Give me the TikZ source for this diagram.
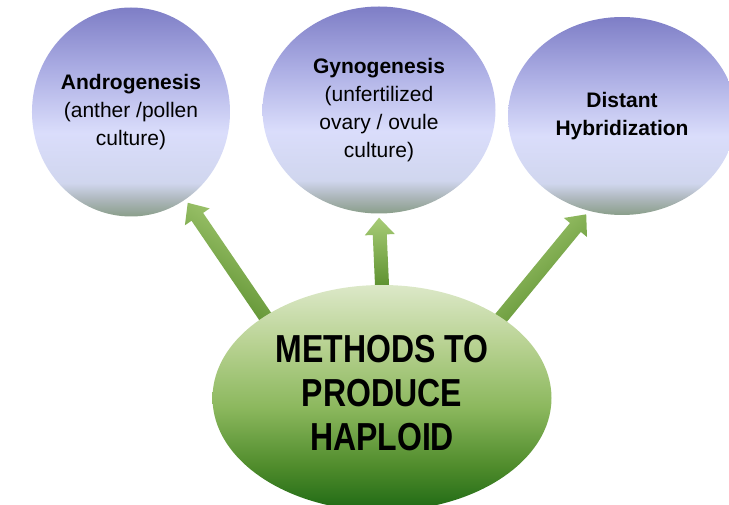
\documentclass[tikz,border=0pt]{standalone}
\usepackage{fontspec}
\setmainfont{Liberation Sans}
\usepackage{xcolor}
\usepackage{tikz}
\usetikzlibrary{positioning, shapes.geometric, calc, backgrounds}

\definecolor{balltop}{RGB}{126,126,198}
\definecolor{ballmid}{RGB}{172,174,228}
\definecolor{balllight}{RGB}{218,221,251}
\definecolor{balllow}{RGB}{208,214,238}
\definecolor{ballgrey}{RGB}{172,182,186}
\definecolor{ballbot}{RGB}{138,158,138}
\definecolor{grasstop}{RGB}{220,232,200}
\definecolor{grasshigh}{RGB}{184,210,146}
\definecolor{grassmid}{RGB}{140,184,94}
\definecolor{grasslow}{RGB}{80,140,44}
\definecolor{grassbot}{RGB}{30,105,20}
\definecolor{shootlight}{RGB}{168,204,118}
\definecolor{shootdark}{RGB}{82,136,38}

\pgfdeclareverticalshading{skyball}{100bp}{color(0bp)=(ballbot); color(25bp)=(ballbot); color(29bp)=(ballgrey); color(33bp)=(balllow); color(45bp)=(balllight); color(60bp)=(ballmid); color(75bp)=(balltop); color(100bp)=(balltop)}
\pgfdeclareverticalshading{grass}{100bp}{color(0bp)=(grassbot); color(25bp)=(grassbot); color(35bp)=(grasslow); color(48bp)=(grassmid); color(62bp)=(grasshigh); color(75bp)=(grasstop); color(100bp)=(grasstop)}

% root anchor, target node, target angle, shading angle
\newcommand\growarrow[4]{%
  \coordinate (tip) at ($(#2.#3)!-4pt!(#2.center)$);
  \coordinate (foot) at ($(#1)!-12pt!(tip)$);
  \coordinate (neck) at ($(tip)!17pt!(foot)$);
  \shade[shoot, shading angle=#4] ($(foot)!7pt!-90:(tip)$) -- ($(neck)!7pt!-90:(tip)$) -- ($(neck)!15pt!-90:(tip)$) -- (tip) -- ($(neck)!15pt!90:(tip)$) -- ($(neck)!7pt!90:(tip)$) -- ($(foot)!7pt!90:(tip)$) -- cycle;
}

\begin{document}
\begin{tikzpicture}[x=1pt, y=-1pt,
    topic/.style={ellipse, inner sep=0pt, shade, shading=skyball, align=center, font=\fontsize{21}{28}\selectfont},
    root/.style={ellipse, inner sep=0pt, shade, shading=grass, align=center, font=\fontsize{32}{36}\selectfont\bfseries},
    shoot/.style={left color=shootlight, right color=shootdark}]
  \clip (0,0) rectangle (729,505);

  \node[topic, minimum width=182pt, minimum height=209pt] (andro) at (131,112) {\textbf{Androgenesis}\\(anther /pollen\\culture)};
  \node[topic, minimum width=233pt, minimum height=207pt] (gyno) at (379,110) {\textbf{Gynogenesis}\\(unfertilized\\ovary / ovule\\culture)};
  \node[topic, minimum width=228pt, minimum height=198pt] (distant) at (622,116) {\textbf{Distant}\\\textbf{Hybridization}};
  \node[root, minimum width=339pt, minimum height=226pt] (methods) at (382,398) {\scalebox{1}[1.22]{\begin{tabular}{@{}c@{}}METHODS TO\\PRODUCE\\HAPLOID\end{tabular}}};

  \begin{scope}[on background layer]
    \growarrow{methods.145}{andro}{-58}{-32.7}
    \growarrow{methods.north}{gyno}{-90}{0}
    \growarrow{methods.34.5}{distant}{-110}{40.4}
  \end{scope}
\end{tikzpicture}
\end{document}
